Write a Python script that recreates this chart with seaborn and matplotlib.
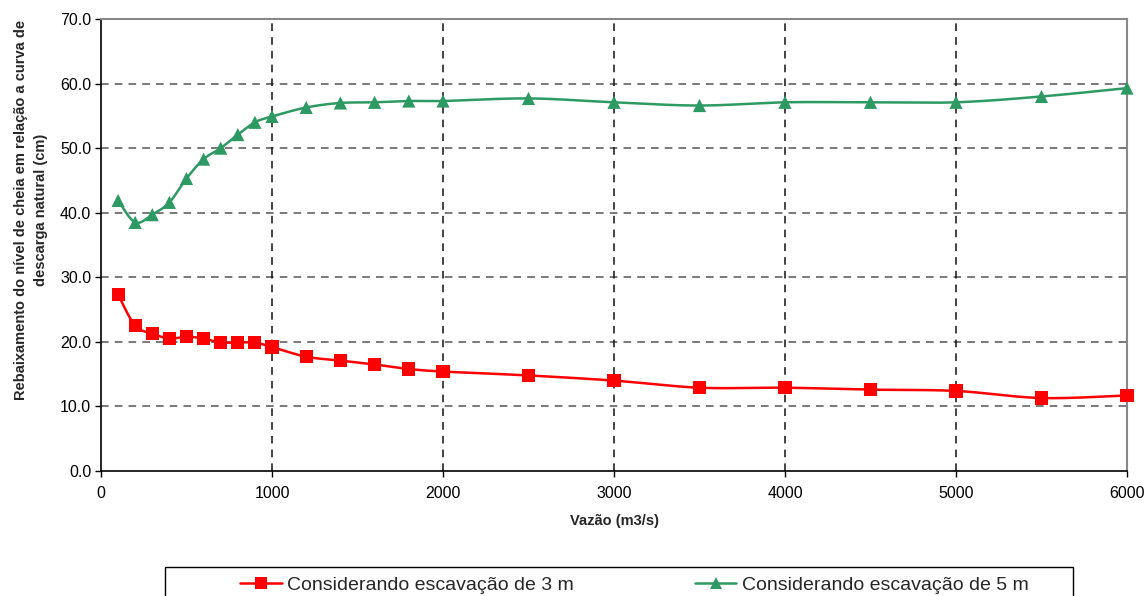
import numpy as np
import pandas as pd
import matplotlib
matplotlib.use("Agg")
import matplotlib.pyplot as plt
from matplotlib.lines import Line2D
from matplotlib.patches import Rectangle
import seaborn as sns

# Discharge values (m3/s)
vazao = [100, 200, 300, 400, 500, 600, 700, 800, 900, 1000,
         1200, 1400, 1600, 1800, 2000, 2500, 3000, 3500, 4000,
         4500, 5000, 5500, 6000]

# Lowering of the flood level (cm) for each excavation depth
escav_3m = [27.3, 22.5, 21.3, 20.5, 20.8, 20.5, 19.9, 19.9, 19.9, 19.2,
            17.7, 17.1, 16.5, 15.8, 15.4, 14.8, 14.0, 12.9, 12.9,
            12.6, 12.4, 11.3, 11.7]
escav_5m = [41.9, 38.5, 39.7, 41.6, 45.3, 48.3, 50.0, 52.1, 54.0, 54.9,
            56.3, 57.0, 57.1, 57.3, 57.3, 57.7, 57.1, 56.6, 57.1,
            57.1, 57.1, 58.0, 59.3]

labels = ["Considerando escavação de 3 m", "Considerando escavação de 5 m"]
x_ticks = [0, 1000, 2000, 3000, 4000, 5000, 6000]
y_ticks = [0, 10, 20, 30, 40, 50, 60, 70]

sns.set_theme(style="white")
plt.rcParams["font.family"] = ["Liberation Sans", "DejaVu Sans"]

RED = "#FF0000"
GREEN = "#2E9A63"
W, H = 1147, 596

fig = plt.figure(figsize=(W / 100, H / 100), dpi=100)
ax = fig.add_axes([101 / W, 1 - 471 / H, (1127 - 101) / W, (471 - 19) / H])
ax.set_xlim(0, 6000)
ax.set_ylim(0, 70)


def smooth_curve(xs, ys, ax, n=30):
    """Bezier smoothing (tension 1/6) computed in screen-proportional space."""
    bbox = ax.get_position()
    fw, fh = fig.get_size_inches()
    sx = bbox.width * fw / (ax.get_xlim()[1] - ax.get_xlim()[0])
    sy = bbox.height * fh / (ax.get_ylim()[1] - ax.get_ylim()[0])
    P = np.column_stack([np.asarray(xs, float) * sx, np.asarray(ys, float) * sy])
    m = len(P)
    out = []
    for i in range(m - 1):
        p0 = P[i - 1] if i > 0 else P[i]
        p1, p2 = P[i], P[i + 1]
        p3 = P[i + 2] if i + 2 < m else P[i + 1]
        c1 = p1 + (p2 - p0) / 6.0
        c2 = p2 - (p3 - p1) / 6.0
        t = np.linspace(0, 1, n)[:, None]
        seg = ((1 - t) ** 3) * p1 + 3 * ((1 - t) ** 2) * t * c1 + 3 * (1 - t) * t ** 2 * c2 + t ** 3 * p2
        out.append(seg if i == 0 else seg[1:])
    C = np.vstack(out)
    return C[:, 0] / sx, C[:, 1] / sy


df = pd.DataFrame({"vazao": vazao + vazao,
                   "valor": escav_3m + escav_5m,
                   "serie": [labels[0]] * len(vazao) + [labels[1]] * len(vazao)})

for ys, col in [(escav_3m, RED), (escav_5m, GREEN)]:
    cx, cy = smooth_curve(vazao, ys, ax)
    ax.plot(cx, cy, color=col, lw=1.8, zorder=3, clip_on=False)

sns.scatterplot(data=df, x="vazao", y="valor", hue="serie", style="serie",
                palette={labels[0]: RED, labels[1]: GREEN},
                markers={labels[0]: "s", labels[1]: "^"},
                s=90, linewidth=0, ax=ax, legend=False, zorder=4, clip_on=False)

# Grid
for yv in y_ticks[1:-1]:
    ax.axhline(yv, color="#555555", lw=1.1, ls=(0, (5, 4)), zorder=1)
for xv in x_ticks[1:-1]:
    ax.axvline(xv, color="#111111", lw=1.1, ls=(0, (5, 4)), zorder=1)

ax.set_xticks(x_ticks)
ax.set_yticks(y_ticks)
ax.set_xticklabels([str(v) for v in x_ticks])
ax.set_yticklabels([f"{v:.1f}" for v in y_ticks])
ax.tick_params(axis="both", which="both", direction="out", length=4, width=1,
               color="black", labelsize=11.5, labelcolor="black", pad=3,
               bottom=True, left=True)
ax.tick_params(axis="x", pad=7)

for side in ["left", "bottom"]:
    ax.spines[side].set_color("black")
    ax.spines[side].set_linewidth(1.2)
for side in ["top", "right"]:
    ax.spines[side].set_color("#888888")
    ax.spines[side].set_linewidth(1.5)

ax.set_xlabel("Vazão (m3/s)", fontsize=10.5, fontweight="bold", labelpad=9)
ax.set_ylabel("Rebaixamento do nível de cheia em relação a curva de\ndescarga natural (cm)",
              fontsize=10.5, fontweight="bold", linespacing=1.55)
ax.yaxis.set_label_coords((48 - 101) / 1026, (471 - 210) / 452)

# Legend frame and entries
fig.patches.append(Rectangle((165 / W, -0.05), (1073 - 165) / W, 1 - 567 / H + 0.05,
                             transform=fig.transFigure, facecolor="white",
                             edgecolor="black", lw=1.0, zorder=0))
handles = [Line2D([], [], color=RED, lw=1.8, marker="s", markersize=8.5, markeredgewidth=0),
           Line2D([], [], color=GREEN, lw=1.8, marker="^", markersize=8.5, markeredgewidth=0)]
leg = fig.legend(handles, labels, loc="center left", ncol=2,
                 bbox_to_anchor=(230 / W, 1 - 585 / H),
                 frameon=False, fontsize=14,
                 handlelength=2.15, handletextpad=0.3, borderpad=0.0,
                 columnspacing=6.2)

fig.savefig("out.png", dpi=100, facecolor="white")
